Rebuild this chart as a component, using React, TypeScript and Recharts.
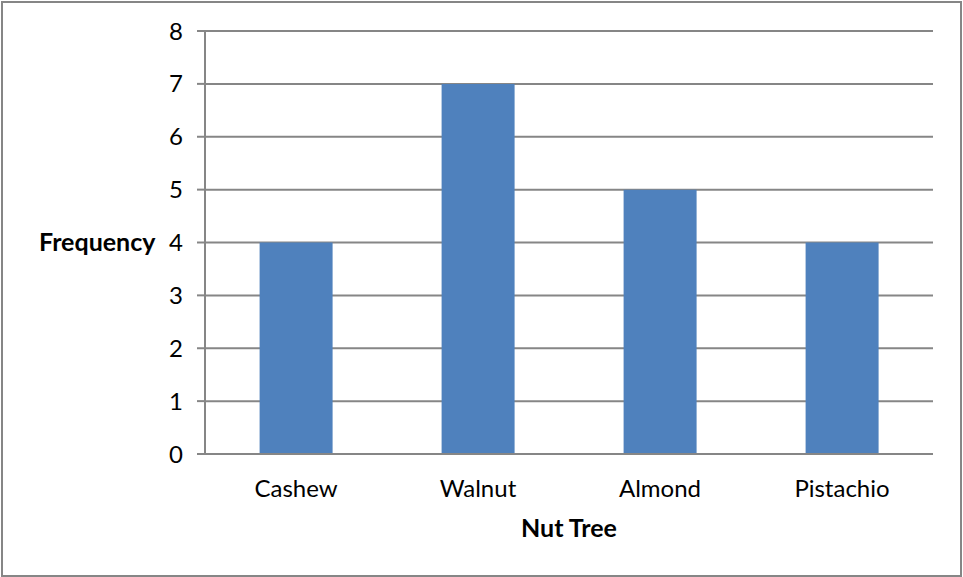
import React from 'react';
import { BarChart, Bar, XAxis, YAxis, CartesianGrid } from 'recharts';

const categories = ['Cashew', 'Walnut', 'Almond', 'Pistachio'];
const frequencies = [4, 7, 5, 4];
const yTicks = [0, 1, 2, 3, 4, 5, 6, 7, 8];

const data = categories.map((name, i) => ({ name, value: frequencies[i] }));

const FONT = 'Lato, "Open Sans", sans-serif';
const GRAY = '#868686';

export default function App() {
  return (
    <div style={{ position: 'absolute', left: 0, top: 0, width: 963, height: 577, background: '#fff' }}>
      <div
        style={{
          position: 'absolute',
          left: 1,
          top: 1,
          width: 957,
          height: 572,
          border: `2px solid ${GRAY}`,
        }}
      />
      <BarChart
        width={963}
        height={577}
        data={data}
        margin={{ top: 31, right: 30, bottom: 33, left: 0 }}
        barCategoryGap="30%"
        style={{ fontFamily: FONT }}
      >
        <CartesianGrid vertical={false} stroke={GRAY} strokeWidth={2} />
        <XAxis
          dataKey="name"
          height={90}
          tickLine={false}
          tickSize={0}
          tickMargin={26}
          axisLine={{ stroke: GRAY, strokeWidth: 2 }}
          tick={{ fill: '#000', fontSize: 24, fontFamily: FONT }}
          interval={0}
          label={{
            value: 'Nut Tree',
            position: 'insideBottom',
            offset: 7,
            fill: '#000',
            fontSize: 25,
            fontWeight: 'bold',
            fontFamily: FONT,
          }}
        />
        <YAxis
          width={205}
          domain={[0, 8]}
          ticks={yTicks}
          interval={0}
          tickSize={8}
          tickMargin={14}
          tickLine={{ stroke: GRAY, strokeWidth: 2 }}
          axisLine={{ stroke: GRAY, strokeWidth: 2 }}
          tick={{ fill: '#000', fontSize: 24, fontFamily: FONT }}
          label={{
            value: 'Frequency',
            position: 'insideLeft',
            offset: 39,
            fill: '#000',
            fontSize: 25,
            fontWeight: 'bold',
            fontFamily: FONT,
          }}
        />
        <Bar dataKey="value" fill="#4F81BD" isAnimationActive={false} />
      </BarChart>
    </div>
  );
}
